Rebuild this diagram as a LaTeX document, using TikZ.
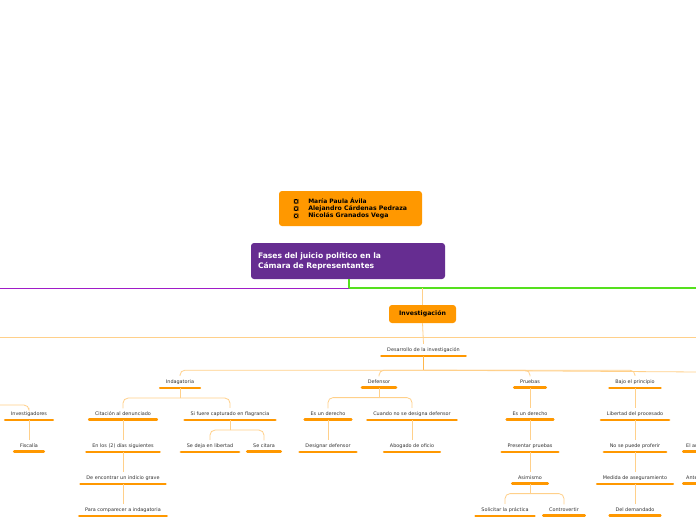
\documentclass[tikz,border=0pt]{standalone}
\usepackage{fontspec}
\setmainfont{DejaVu Sans}
\definecolor{org}{HTML}{FF9800}
\definecolor{pale}{HTML}{FFD08A}
\definecolor{purp}{HTML}{662D91}
\definecolor{grn}{HTML}{55E01E}
\definecolor{mag}{HTML}{A01CC8}
\newcommand{\sqbx}{\tikz[baseline=0pt]\draw[line width=0.4pt] (0,0) rectangle (4pt,4pt);}
\tikzset{
 leaf/.style={font=\fontsize{4.9}{5.8}\selectfont, text=black!80, inner xsep=7pt, inner ysep=3.5pt,
   append after command={(\tikzlastnode.south west) edge[draw=org,line width=2.6pt,line cap=round,shorten <=1.3pt,shorten >=1.3pt] (\tikzlastnode.south east)}},
 conn/.style={draw=pale,line width=0.8pt,rounded corners=5pt},
 box/.style={fill=org,rounded corners=3pt,font=\bfseries\fontsize{6.2}{7.2}\selectfont,text=black}
}
\begin{document}
\begin{tikzpicture}[x=1pt,y=-1pt]
\path[use as bounding box] (0,0) rectangle (696,520);
\clip (0,0) rectangle (696,520);
\fill[white] (0,0) rectangle (696,520);
% header boxes
\node[box,minimum width=143pt,minimum height=35pt,align=left] (names) at (350.5,208.5)
 {\fontsize{6}{8}\selectfont\sqbx\hspace{10pt}María Paula Ávila\\ \sqbx\hspace{10pt}Alejandro Cárdenas Pedraza\\ \sqbx\hspace{10pt}Nicolás Granados Vega};
\node[fill=purp,rounded corners=3pt,minimum width=194pt,minimum height=36pt,text=white,font=\bfseries\fontsize{7.6}{10}\selectfont,align=left,text width=180pt] (title) at (348,261)
 {Fases del juicio político en la\\Cámara de Representantes};
\coordinate (hub) at (349,288);
\draw[grn,line width=1.2pt] (title.south -| hub) -- (hub) -- (696,288);
\draw[mag,line width=0.9pt] (0,288) -- (hub);
\node[box,minimum width=67pt,minimum height=18pt] (inv) at (422.5,314) {Investigación};
\draw[conn] (422.5,288) -- (inv.north);
\draw[conn] (0,337) -- (696,337);
\node[leaf] (des) at (423.5,350) {Desarrollo de la investigación};
\draw[conn] (inv.south) -- (des.north);
% level 1
\node[leaf] (ind) at (180,382) {Indagatoria};
\node[leaf] (def) at (379,382) {Defensor};
\node[leaf] (pru) at (530,382) {Pruebas};
\node[leaf] (baj) at (635,382) {Bajo el principio};
\draw[conn,line width=1.1pt,draw=org!70] (des.south) -- ++(0,14) coordinate (d1);
\draw[conn] (d1) -| (ind.north);
\draw[conn] (d1) -| (def.north);
\draw[conn] (d1) -| (pru.north);
\draw[conn] (d1) -| (baj.north);
\draw[conn] (d1) -- (700,372);
% level 2
\node[leaf] (inv2) at (29,414) {Investigadores};
\node[leaf] (fis) at (29,446) {Fiscalía};
\draw[conn] (-5,405) -| (inv2.north);
\draw[conn] (inv2.south) -- (fis.north);
\node[leaf] (cit) at (123,414) {Citación al denunciado};
\node[leaf] (sif) at (230,414) {Si fuere capturado en flagrancia};
\draw[conn] (ind.south) -- ++(0,10) coordinate (i1);
\draw[conn] (i1) -| (cit.north); \draw[conn] (i1) -| (sif.north);
\node[leaf] (esd) at (328,414) {Es un derecho};
\node[leaf] (cua) at (412,414) {Cuando no se designa defensor};
\draw[conn] (def.south) -- ++(0,10) coordinate (f1);
\draw[conn] (f1) -| (esd.north); \draw[conn] (f1) -| (cua.north);
\node[leaf] (esd2) at (530,414) {Es un derecho};
\draw[conn] (pru.south) -- (esd2.north);
\node[leaf] (lib) at (635,414) {Libertad del procesado};
\draw[conn] (baj.south) -- (lib.north);
% level 3
\node[leaf] (enl) at (123,446) {En los (2) días siguientes};
\draw[conn] (cit.south) -- (enl.north);
\node[leaf] (sed) at (210,446) {Se deja en libertad};
\node[leaf] (sec) at (264,446) {Se citara};
\draw[conn] (sif.south) -- ++(0,10) coordinate (s1);
\draw[conn] (s1) -| (sed.north); \draw[conn] (s1) -| (sec.north);
\node[leaf] (dsd) at (328,446) {Designar defensor};
\draw[conn] (esd.south) -- (dsd.north);
\node[leaf] (abo) at (412,446) {Abogado de oficio};
\draw[conn] (cua.south) -- (abo.north);
\node[leaf] (pre) at (530,446) {Presentar pruebas};
\draw[conn] (esd2.south) -- (pre.north);
\node[leaf] (nos) at (635,446) {No se puede proferir};
\draw[conn] (lib.south) -- (nos.north);
\node[leaf,anchor=west,inner xsep=4pt] (ela) at (682,446) {El auto};
% level 4
\node[leaf] (dee) at (123,478) {De encontrar un indicio grave};
\draw[conn] (enl.south) -- (dee.north);
\node[leaf] (asi) at (530,478) {Asimismo};
\draw[conn] (pre.south) -- (asi.north);
\node[leaf] (med) at (635,478) {Medida de aseguramiento};
\draw[conn] (nos.south) -- (med.north);
\node[leaf,anchor=west,inner xsep=4pt] (ant) at (682,478) {Antes};
% level 5
\node[leaf] (par) at (123,510) {Para comparecer a indagatoria};
\draw[conn] (dee.south) -- (par.north);
\node[leaf] (sol) at (505,510) {Solicitar la práctica};
\node[leaf] (con) at (564,510) {Controvertir};
\draw[conn] (asi.south) -- ++(0,10) coordinate (a1);
\draw[conn] (a1) -| (sol.north); \draw[conn] (a1) -| (con.north);
\node[leaf] (del) at (635,510) {Del demandado};
\draw[conn] (med.south) -- (del.north);
\end{tikzpicture}
\end{document}
